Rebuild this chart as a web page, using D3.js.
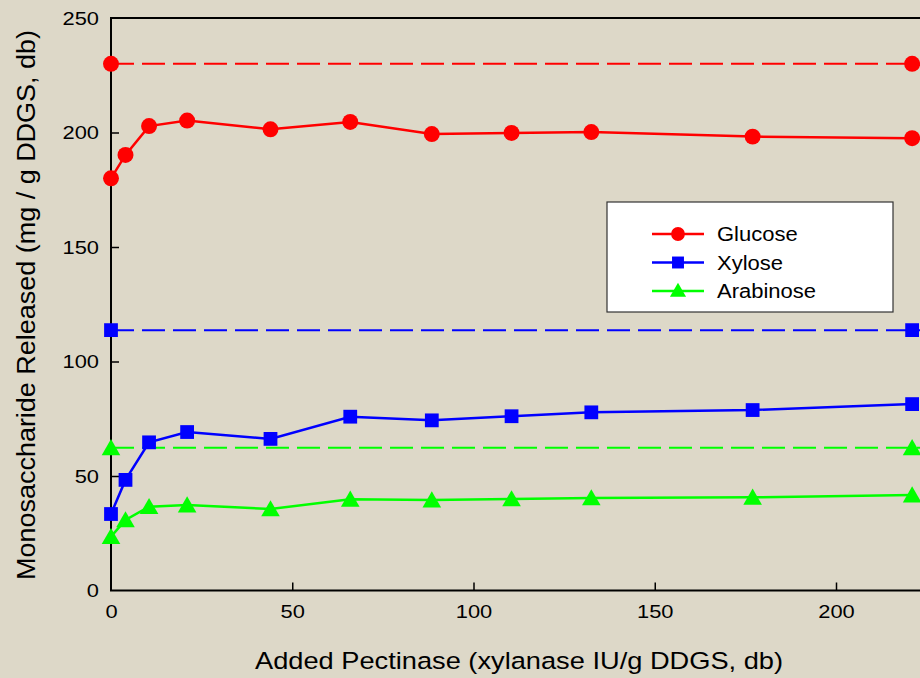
<!DOCTYPE html>
<html>
<head>
<meta charset="utf-8">
<script src="https://cdn.jsdelivr.net/npm/d3@7"></script>
<style>
  body { margin: 0; background: #ddd8c8; }
  svg { display: block; font-family: Arial, "Liberation Sans", sans-serif; }
</style>
</head>
<body>
<div id="chart"></div>
<script>
const pectinase = [0, 4, 10.5, 21, 44, 66, 88.5, 110.5, 132.5, 177, 221];
const glucose = [180, 190.2, 202.8, 205.2, 201.4, 204.6, 199.3, 199.8, 200.2, 198.2, 197.5];
const xylose = [33.4, 48.3, 64.7, 69.2, 66.2, 75.9, 74.3, 76.1, 77.8, 78.8, 81.4];
const arabinose = [23.5, 30.8, 36.6, 37.3, 35.6, 39.8, 39.5, 40, 40.4, 40.7, 41.7];
// theoretical maximum (dashed reference lines)
const maxEnds = [0, 221];
const glucoseMax = 230;
const xyloseMax = 113.7;
const arabinoseMax = 62.3;
const xTicks = [0, 50, 100, 150, 200];
const yTicks = [0, 50, 100, 150, 200, 250];

const width = 920, height = 678;
const svg = d3.select("#chart").append("svg")
  .attr("width", width).attr("height", height);

// 0..200 maps to 111..836, extend past the right edge like the original
const x = d3.scaleLinear().domain([0, 200]).range([111, 836]);
const y = d3.scaleLinear().domain([0, 250]).range([590.5, 18]);

const series = [
  { name: "Glucose", values: glucose, max: glucoseMax, color: "#ff0000", symbol: d3.symbolCircle, size: 200 },
  { name: "Xylose", values: xylose, max: xyloseMax, color: "#0000ff", symbol: d3.symbolSquare, size: 190 },
  { name: "Arabinose", values: arabinose, max: arabinoseMax, color: "#00ff00", symbol: d3.symbolTriangle, size: 150 }
];

// the original text is a bit wider than Arial, stretch it
function stretch(sel, k) {
  sel.each(function () {
    const len = this.getComputedTextLength();
    d3.select(this).attr("textLength", len * k).attr("lengthAdjust", "spacingAndGlyphs");
  });
}

// axes with inward ticks
const xAxis = svg.append("g")
  .attr("transform", `translate(0,${y(0)})`)
  .call(d3.axisBottom(x).tickValues(xTicks).tickSize(-8).tickPadding(14));
const yAxis = svg.append("g")
  .attr("transform", `translate(${x(0)},0)`)
  .call(d3.axisLeft(y).tickValues(yTicks).tickSize(-8).tickPadding(12));

[xAxis, yAxis].forEach(a => {
  a.select(".domain").remove();
  a.selectAll(".tick line").attr("stroke", "#000").attr("stroke-width", 1.5);
  a.selectAll(".tick text").attr("font-size", 19).attr("fill", "#000")
    .attr("font-family", "Arial, 'Liberation Sans', sans-serif")
    .call(stretch, 1.15);
});
xAxis.selectAll(".tick").filter(d => d === 0).select("line").remove();
yAxis.selectAll(".tick").filter(d => d === 0 || d === 250).select("line").remove();

// frame: left, bottom, top
svg.append("path")
  .attr("d", `M${width + 5},${y(250)}H${x(0)}V${y(0)}H${width + 5}`)
  .attr("fill", "none").attr("stroke", "#000").attr("stroke-width", 2);

// dashed maxima
series.forEach(s => {
  svg.append("line")
    .attr("x1", x(maxEnds[0])).attr("x2", width + 5)
    .attr("y1", y(s.max)).attr("y2", y(s.max))
    .attr("stroke", s.color).attr("stroke-width", 2)
    .attr("stroke-dasharray", "23,8");
  svg.selectAll(null).data(maxEnds).join("path")
    .attr("transform", d => `translate(${x(d)},${y(s.max) + (s.symbol === d3.symbolTriangle ? 2 : 0)})`)
    .attr("d", d3.symbol(s.symbol, s.size))
    .attr("fill", s.color);
});

// data lines
const line = d3.line().x(d => x(d[0])).y(d => y(d[1]));
series.forEach(s => {
  const pts = pectinase.map((p, i) => [p, s.values[i]]);
  svg.append("path").datum(pts)
    .attr("d", line).attr("fill", "none")
    .attr("stroke", s.color).attr("stroke-width", 2.5);
  svg.selectAll(null).data(pts).join("path")
    .attr("transform", d => `translate(${x(d[0])},${y(d[1]) + (s.symbol === d3.symbolTriangle ? 2 : 0)})`)
    .attr("d", d3.symbol(s.symbol, s.size))
    .attr("fill", s.color);
});

// legend
const lg = svg.append("g").attr("transform", "translate(607,202)");
lg.append("rect").attr("width", 286).attr("height", 110)
  .attr("fill", "#fff").attr("stroke", "#333").attr("stroke-width", 1.2);
series.forEach((s, i) => {
  const ry = 32 + i * 28.5;
  lg.append("line").attr("x1", 45).attr("x2", 97).attr("y1", ry).attr("y2", ry)
    .attr("stroke", s.color).attr("stroke-width", 2.5);
  lg.append("path").attr("transform", `translate(71,${ry + (s.symbol === d3.symbolTriangle ? 1 : 0)})`)
    .attr("d", d3.symbol(s.symbol, s.size * 0.75)).attr("fill", s.color);
  lg.append("text").attr("x", 110).attr("y", ry).attr("dy", "0.36em")
    .attr("font-size", 20).text(s.name)
    .call(stretch, 1.1);
});

// axis titles
svg.append("text")
  .attr("x", 519).attr("y", 669)
  .attr("text-anchor", "middle").attr("font-size", 24.5)
  .attr("textLength", 528).attr("lengthAdjust", "spacingAndGlyphs")
  .text("Added Pectinase (xylanase IU/g DDGS, db)");
svg.append("text")
  .attr("transform", "translate(35,305) rotate(-90)")
  .attr("text-anchor", "middle").attr("font-size", 25)
  .attr("textLength", 550).attr("lengthAdjust", "spacingAndGlyphs")
  .text("Monosaccharide Released (mg / g DDGS, db)");
</script>
</body>
</html>
